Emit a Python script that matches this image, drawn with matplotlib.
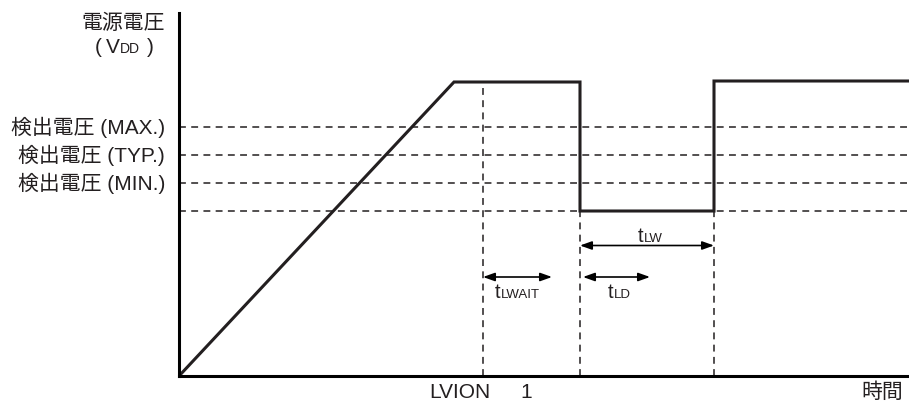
import matplotlib.pyplot as plt

plt.rcParams['font.family'] = ['Liberation Sans', 'Noto Sans CJK JP']

# waveform (time in arbitrary units, voltage in arbitrary units)
t_wave = [0, 27.5, 40.1, 40.1, 53.5, 53.5, 73.0]
v_wave = [0, 5.88, 5.88, 3.30, 3.30, 5.90, 5.90]

# detection levels
det_levels = [4.98, 4.42, 3.86, 3.30]
det_labels = ['検出電圧 (MAX.)', '検出電圧 (TYP.)', '検出電圧 (MIN.)']

# timing markers
t_lvion = 30.4
t_drop = 40.1
t_rise = 53.5
v_high = 5.88
v_low = 3.30

# arrows: (start, end, level)
arrows = [(40.1, 53.5, 2.61), (30.4, 37.3, 1.98), (40.4, 47.1, 1.98)]
# arrow labels: (left x, baseline, subscript)
arrow_labels = [(45.9, 2.68, 'LW'), (31.6, 1.56, 'LWAIT'), (42.9, 1.56, 'LD')]

fig = plt.figure(figsize=(9.09, 4.03), dpi=100)
ax = fig.add_axes([179/909, 27/403, 730/909, 363/403])
ax.set_xlim(0, 73)
ax.set_ylim(0, 7.26)

line_col = '#231f20'
dash = dict(color=line_col, lw=1.1, linestyle=(0, (4.5, 3.5)))

for lv in det_levels:
    ax.plot([0, 73], [lv, lv], **dash)
ax.plot([t_lvion, t_lvion], [0, v_high], **dash)
ax.plot([t_drop, t_drop], [0, v_low], **dash)
ax.plot([t_rise, t_rise], [0, v_low], **dash)

ax.plot(t_wave, v_wave, color=line_col, lw=2.2, solid_joinstyle='miter')

for x0, x1, y in arrows:
    ax.annotate('', xy=(x1, y), xytext=(x0, y),
                arrowprops=dict(arrowstyle='<|-|>,head_length=0.7,head_width=0.25',
                                color='black', lw=1.2, shrinkA=0, shrinkB=0))

for xl, yb, sub in arrow_labels:
    ax.text(xl, yb, 't', ha='left', va='baseline', fontsize=14.5, color=line_col)
    ax.text(xl + 0.62, yb, sub, ha='left', va='baseline', fontsize=9.5, color=line_col)

for spine in ['top', 'right']:
    ax.spines[spine].set_visible(False)
for spine in ['left', 'bottom']:
    ax.spines[spine].set_linewidth(2.2)
    ax.spines[spine].set_color('black')
ax.set_xticks([])
ax.set_yticks([])

fs = 15
for lv, lab in zip(det_levels, det_labels):
    ax.text(-1.4, lv, lab, ha='right', va='center', fontsize=fs, color=line_col)

ax.text(-1.4, 7.05, '電源電圧', ha='right', va='center', fontsize=fs, color=line_col)
ax.text(-8.4, 6.46, '(', ha='left', va='baseline', fontsize=fs, color=line_col)
ax.text(-7.3, 6.46, 'V', ha='left', va='baseline', fontsize=fs, color=line_col)
ax.text(-5.95, 6.46, 'DD', ha='left', va='baseline', fontsize=10, color=line_col)
ax.text(-3.2, 6.46, ')', ha='left', va='baseline', fontsize=fs, color=line_col)

ax.text(28.05, -0.44, 'LVION', ha='center', va='baseline', fontsize=fs, color=line_col)
ax.text(34.75, -0.44, '1', ha='center', va='baseline', fontsize=fs, color=line_col)
ax.text(70.3, -0.44, '時間', ha='center', va='baseline', fontsize=fs, color=line_col)

fig.savefig('out.png', dpi=100)
